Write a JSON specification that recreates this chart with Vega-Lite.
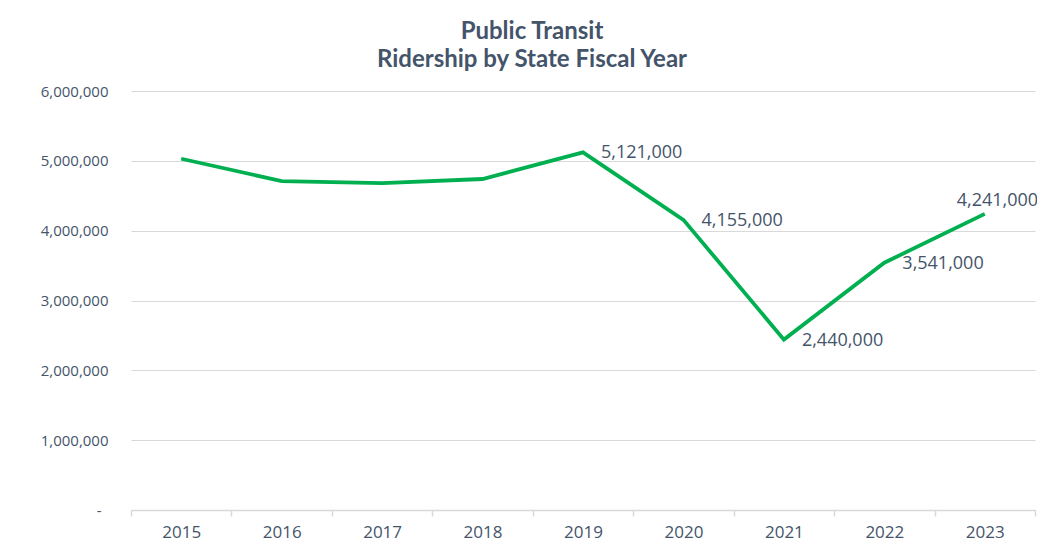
{
  "$schema": "https://vega.github.io/schema/vega-lite/v6.json",
  "width": 904,
  "height": 419,
  "autosize": {"type": "none"},
  "padding": {"left": 131, "top": 91, "right": 2, "bottom": 36},
  "background": "white",
  "config": {"view": {"stroke": null}},
  "title": {
    "text": ["Public Transit", "Ridership by State Fiscal Year"],
    "font": "Lato",
    "fontSize": 24,
    "fontWeight": "bold",
    "color": "#44546A",
    "anchor": "middle",
    "dx": -51,
    "offset": 12,
    "lineHeight": 28
  },
  "data": {
    "values": [
      {"year": "2015", "riders": 5030000, "label": ""},
      {"year": "2016", "riders": 4710000, "label": ""},
      {"year": "2017", "riders": 4680000, "label": ""},
      {"year": "2018", "riders": 4740000, "label": ""},
      {"year": "2019", "riders": 5121000, "label": "5,121,000"},
      {"year": "2020", "riders": 4155000, "label": "4,155,000"},
      {"year": "2021", "riders": 2440000, "label": "2,440,000"},
      {"year": "2022", "riders": 3541000, "label": "3,541,000"},
      {"year": "2023", "riders": 4241000, "label": "4,241,000"}
    ]
  },
  "encoding": {
    "x": {
      "field": "year",
      "type": "ordinal",
      "scale": {"paddingInner": 0, "paddingOuter": 0},
      "axis": {
        "title": null,
        "labelAngle": 0,
        "labelFont": "Open Sans",
        "labelFontSize": 17,
        "labelColor": "#44546A",
        "labelPadding": 8,
        "domainColor": "#D9D9D9",
        "domainWidth": 1.5,
        "tickColor": "#D9D9D9",
        "tickWidth": 1.5,
        "tickSize": 6,
        "tickBand": "extent",
        "grid": false
      }
    },
    "y": {
      "field": "riders",
      "type": "quantitative",
      "scale": {"domain": [0, 6000000], "nice": false},
      "axis": {
        "title": null,
        "values": [0, 1000000, 2000000, 3000000, 4000000, 5000000, 6000000],
        "labelExpr": "datum.value == 0 ? '-' : format(datum.value, ',')",
        "labelFont": "Open Sans",
        "labelFontSize": 15,
        "labelColor": "#44546A",
        "labelPadding": {"condition": {"test": "datum.value == 0", "value": 30}, "value": 23},
        "labelOverlap": false,
        "labelBound": false,
        "domain": false,
        "ticks": false,
        "gridColor": "#D9D9D9",
        "gridWidth": 1.2
      }
    }
  },
  "layer": [
    {
      "mark": {"type": "line", "color": "#00B050", "strokeWidth": 3.8, "strokeJoin": "miter"}
    },
    {
      "transform": [{"filter": "datum.label != '' && datum.year != '2023'"}],
      "mark": {"type": "text", "align": "left", "baseline": "middle", "dx": 18, "dy": 1, "font": "Open Sans", "fontSize": 18, "color": "#44546A"},
      "encoding": {"text": {"field": "label"}}
    },
    {
      "transform": [{"filter": "datum.year == '2023'"}],
      "mark": {"type": "text", "align": "left", "baseline": "middle", "dx": -28, "dy": -13, "font": "Open Sans", "fontSize": 18, "color": "#44546A"},
      "encoding": {"text": {"field": "label"}}
    }
  ]
}
